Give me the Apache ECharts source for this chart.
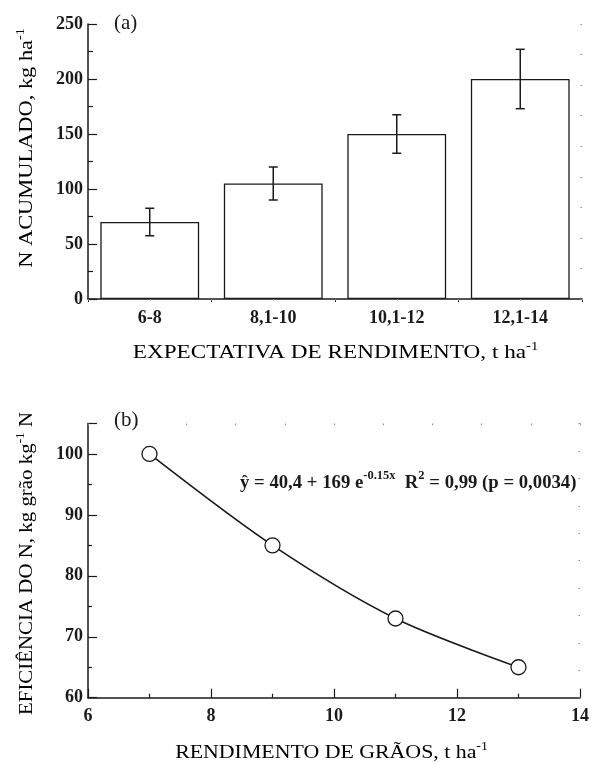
<!DOCTYPE html>
<html>
<head>
<meta charset="utf-8">
<script src="https://cdn.jsdelivr.net/npm/echarts@6/dist/echarts.min.js"></script>
<style>
  html, body { margin: 0; padding: 0; background: #fff; }
  #chart { width: 592px; height: 762px; }
</style>
</head>
<body>
<div id="chart"></div>
<script>
// (a) N acumulado por expectativa de rendimento
const categories = ['6-8', '8,1-10', '10,1-12', '12,1-14'];
const nAcumulado = [70, 105, 150, 200];
const nErro = [12.5, 15, 17.5, 27];
const yTicksA = [0, 50, 100, 150, 200, 250];

// (b) eficiencia do N vs rendimento de graos
const rendimento = [7, 9, 11, 13];
const eficiencia = [100, 85, 73, 65];

const serif = 'Liberation Serif';
const ink = '#1a1a1a';

const errData = categories.map((c, i) => [i, nAcumulado[i] - nErro[i], nAcumulado[i] + nErro[i]]);

const labelStyle = { fontFamily: serif, fontSize: 18, fontWeight: 'bold', color: ink };
const titleRich = {
  t: { fontFamily: serif, fontSize: 19, color: ink, verticalAlign: 'bottom', lineHeight: 22 },
  sup: { fontFamily: serif, fontSize: 12, color: ink, verticalAlign: 'top', lineHeight: 22 }
};
const mirrorTick = { show: true, inside: true, length: 1.5, lineStyle: { color: '#888', width: 1 } };

// axis titles drawn as text, a bit wider like the original typeface
function axisTitle(text, x, y, sx, vertical) {
  return {
    type: 'text', x: x, y: y, scaleX: sx, rotation: vertical ? Math.PI / 2 : 0,
    style: { text: text, x: 0, y: 0, align: 'center', verticalAlign: 'middle', rich: titleRich }
  };
}

const chart = echarts.init(document.getElementById('chart'));
chart.setOption({
  animation: false,
  backgroundColor: '#fff',
  grid: [
    { left: 88, right: 10, top: 24, bottom: 463 },
    { left: 88, right: 10, top: 423.5, bottom: 64.3 }
  ],
  xAxis: [
    {
      type: 'category', gridIndex: 0, data: categories,
      axisLine: { lineStyle: { color: ink, width: 1.5 } },
      axisTick: { show: true, length: 3, lineStyle: { color: ink } },
      axisLabel: Object.assign({ margin: 10 }, labelStyle)
    },
    {
      type: 'value', gridIndex: 0, position: 'top', min: 0, max: 8, interval: 1,
      axisLine: { show: false }, axisTick: mirrorTick, axisLabel: { show: false }, splitLine: { show: false }
    },
    {
      type: 'value', gridIndex: 1, min: 6, max: 14, interval: 2,
      axisLine: { lineStyle: { color: ink, width: 1.5 } },
      axisTick: { show: true, inside: true, length: 9, lineStyle: { color: ink, width: 1.2 } },
      minorTick: { show: true, splitNumber: 2, length: 4, lineStyle: { color: ink, width: 1.2 } },
      axisLabel: Object.assign({ margin: 10 }, labelStyle),
      splitLine: { show: false }
    },
    {
      type: 'value', gridIndex: 1, position: 'top', min: 0, max: 10, interval: 1,
      axisLine: { show: false }, axisTick: mirrorTick, axisLabel: { show: false }, splitLine: { show: false }
    }
  ],
  yAxis: [
    {
      type: 'value', gridIndex: 0, min: yTicksA[0], max: yTicksA[yTicksA.length - 1], interval: 50,
      axisLine: { show: true, lineStyle: { color: ink, width: 1.5 } },
      axisTick: { show: true, inside: true, length: 9, lineStyle: { color: ink, width: 1.2 } },
      minorTick: { show: true, splitNumber: 2, length: 5, lineStyle: { color: ink, width: 1.2 } },
      axisLabel: Object.assign({ margin: 5 }, labelStyle),
      splitLine: { show: false }
    },
    {
      type: 'value', gridIndex: 0, position: 'right', min: 0, max: 9, interval: 1,
      axisLine: { show: false }, axisTick: mirrorTick, axisLabel: { show: false }, splitLine: { show: false }
    },
    {
      type: 'value', gridIndex: 1, min: 60, max: 105, interval: 10,
      axisLine: { show: true, lineStyle: { color: ink, width: 1.5 } },
      axisTick: { show: true, inside: true, length: 9, lineStyle: { color: ink, width: 1.2 } },
      minorTick: { show: true, splitNumber: 2, length: 4, lineStyle: { color: ink, width: 1.2 } },
      axisLabel: Object.assign({ margin: 5, showMaxLabel: false }, labelStyle),
      splitLine: { show: false }
    },
    {
      type: 'value', gridIndex: 1, position: 'right', min: 0, max: 10, interval: 1,
      axisLine: { show: false }, axisTick: mirrorTick, axisLabel: { show: false }, splitLine: { show: false }
    }
  ],
  series: [
    {
      type: 'bar', xAxisIndex: 0, yAxisIndex: 0, data: nAcumulado,
      barCategoryGap: '20%',
      itemStyle: { color: '#fff', borderColor: ink, borderWidth: 1.3 }
    },
    {
      type: 'custom', xAxisIndex: 0, yAxisIndex: 0, data: errData, z: 5,
      renderItem: function (params, api) {
        const lo = api.coord([api.value(0), api.value(1)]);
        const hi = api.coord([api.value(0), api.value(2)]);
        const w = 4.5;
        const st = { stroke: ink, lineWidth: 1.5 };
        return {
          type: 'group',
          children: [
            { type: 'line', shape: { x1: lo[0], y1: lo[1], x2: hi[0], y2: hi[1] }, style: st },
            { type: 'line', shape: { x1: lo[0] - w, y1: lo[1], x2: lo[0] + w, y2: lo[1] }, style: st },
            { type: 'line', shape: { x1: hi[0] - w, y1: hi[1], x2: hi[0] + w, y2: hi[1] }, style: st }
          ]
        };
      }
    },
    {
      type: 'line', xAxisIndex: 2, yAxisIndex: 2,
      data: rendimento.map((x, i) => [x, eficiencia[i]]),
      smooth: 0.3,
      symbol: 'circle', symbolSize: 15,
      lineStyle: { color: ink, width: 1.6 },
      itemStyle: { color: '#fff', borderColor: ink, borderWidth: 1.3 }
    }
  ],
  graphic: [
    { type: 'text', left: 114, top: 13, style: { text: '(a)', font: '21px "Liberation Serif"', fill: ink } },
    { type: 'text', left: 114, top: 410, style: { text: '(b)', font: '21px "Liberation Serif"', fill: ink } },
    axisTitle('{t|EXPECTATIVA DE RENDIMENTO, t ha}{sup|-1}', 335.5, 352, 1.22, false),
    axisTitle('{t|N ACUMULADO, kg ha}{sup|-1}', 26, 148, 1.18, true),
    axisTitle('{t|RENDIMENTO DE GRÃOS, t ha}{sup|-1}', 331.5, 752, 1.15, false),
    axisTitle('{t|EFICIÊNCIA DO N, kg grão kg}{sup|-1}{t| N}', 26, 563.5, 1.1, true),
    {
      type: 'text', left: 240, top: 470, scaleX: 1.04,
      style: {
        text: '{b|ŷ = 40,4 + 169 e}{s|-0.15x}{b|  R}{s|2}{b| = 0,99 (p = 0,0034)}',
        fill: ink,
        rich: {
          b: { fontFamily: serif, fontSize: 18, fontWeight: 'bold', color: ink, verticalAlign: 'bottom', lineHeight: 22 },
          s: { fontFamily: serif, fontSize: 12, fontWeight: 'bold', color: ink, verticalAlign: 'top', lineHeight: 22 }
        }
      }
    }
  ]
});
</script>
</body>
</html>
